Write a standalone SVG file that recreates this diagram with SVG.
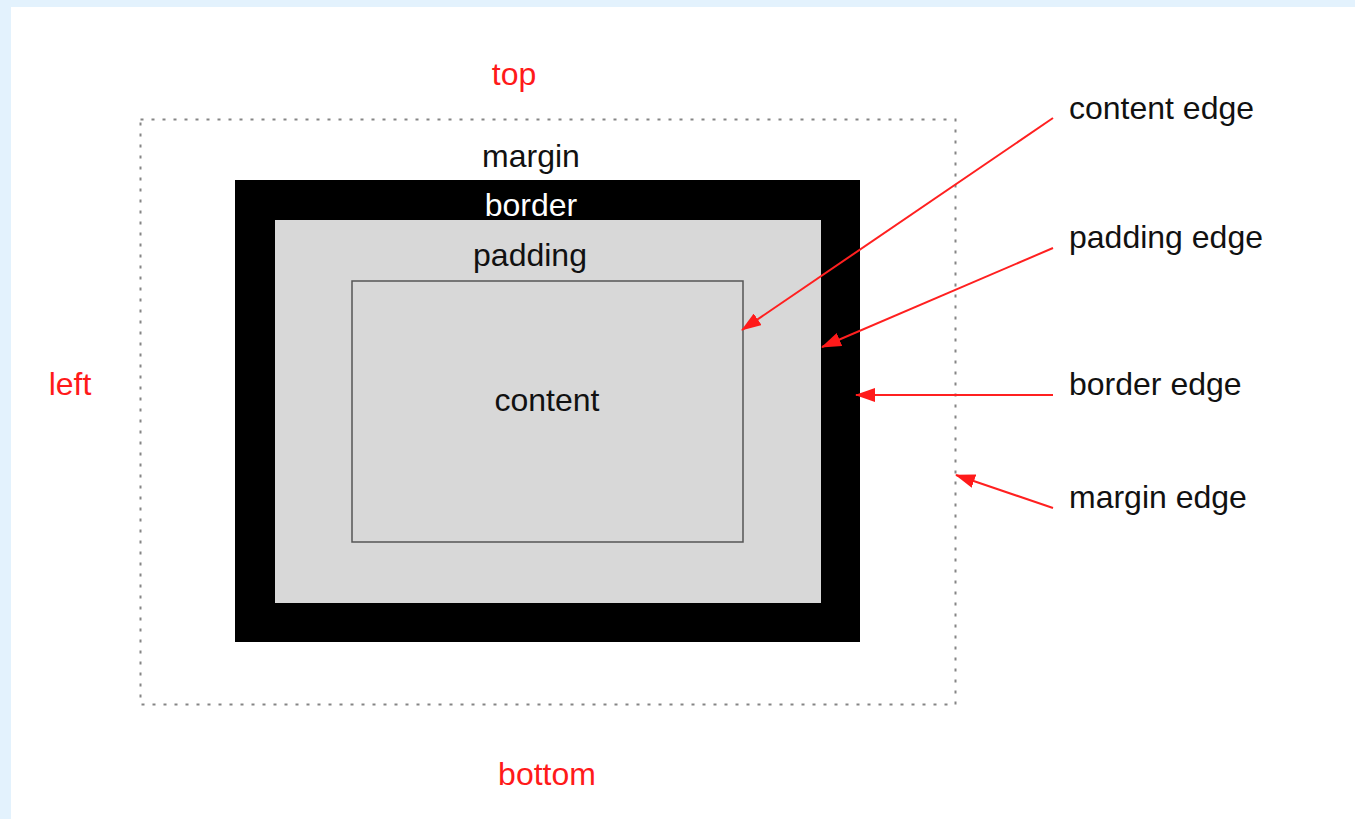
<svg xmlns="http://www.w3.org/2000/svg" width="1355" height="819" viewBox="0 0 1355 819">
<style>
.t{font-family:"Liberation Sans",Arial,sans-serif;font-size:32px}
.red{fill:#ff1a1a}
.blk{fill:#111}
.c{text-anchor:middle}
.arr{stroke:#ff2020;stroke-width:2;fill:none;marker-end:url(#ah)}
</style>
<defs>
<marker id="ah" viewBox="0 0 20 14" refX="19" refY="7" markerWidth="20" markerHeight="14" markerUnits="userSpaceOnUse" orient="auto">
<path d="M0,0 L20,7 L0,14 Z" fill="#ff1a1a"/>
</marker>
</defs>
<rect x="0" y="0" width="1355" height="819" fill="#e3f2fd"/>
<rect x="11" y="7" width="1344" height="812" fill="#ffffff"/>
<g id="margin-box">
<rect x="140.5" y="119.5" width="815" height="585" fill="none" stroke="#858585" stroke-width="2" stroke-dasharray="3 8"/>
<text class="t blk c" x="531" y="167">margin</text>
</g>
<g id="border-box">
<rect x="235" y="180" width="625" height="462" fill="#000"/>
<text class="t c" x="531" y="216" fill="#ffffff">border</text>
</g>
<g id="padding-box">
<rect x="275" y="220" width="546" height="383" fill="#d8d8d8"/>
<text class="t blk c" x="530" y="266">padding</text>
</g>
<g id="content-box">
<rect x="352" y="281" width="391" height="261" fill="#d8d8d8" stroke="#555" stroke-width="1.5"/>
<text class="t blk c" x="547" y="411">content</text>
</g>
<g id="side-labels">
<text class="t red c" x="514" y="85">top</text>
<text class="t red c" x="70" y="395">left</text>
<text class="t red c" x="547" y="785">bottom</text>
</g>
<g id="edge-labels">
<text class="t blk" x="1069" y="119">content edge</text>
<text class="t blk" x="1069" y="248">padding edge</text>
<text class="t blk" x="1069" y="395">border edge</text>
<text class="t blk" x="1069" y="508">margin edge</text>
</g>
<g id="connectors">
<line class="arr" x1="1053" y1="118" x2="742" y2="330"/>
<line class="arr" x1="1053" y1="248" x2="822" y2="347"/>
<line class="arr" x1="1053" y1="395" x2="856" y2="395"/>
<line class="arr" x1="1053" y1="508" x2="956" y2="475"/>
</g>
</svg>
